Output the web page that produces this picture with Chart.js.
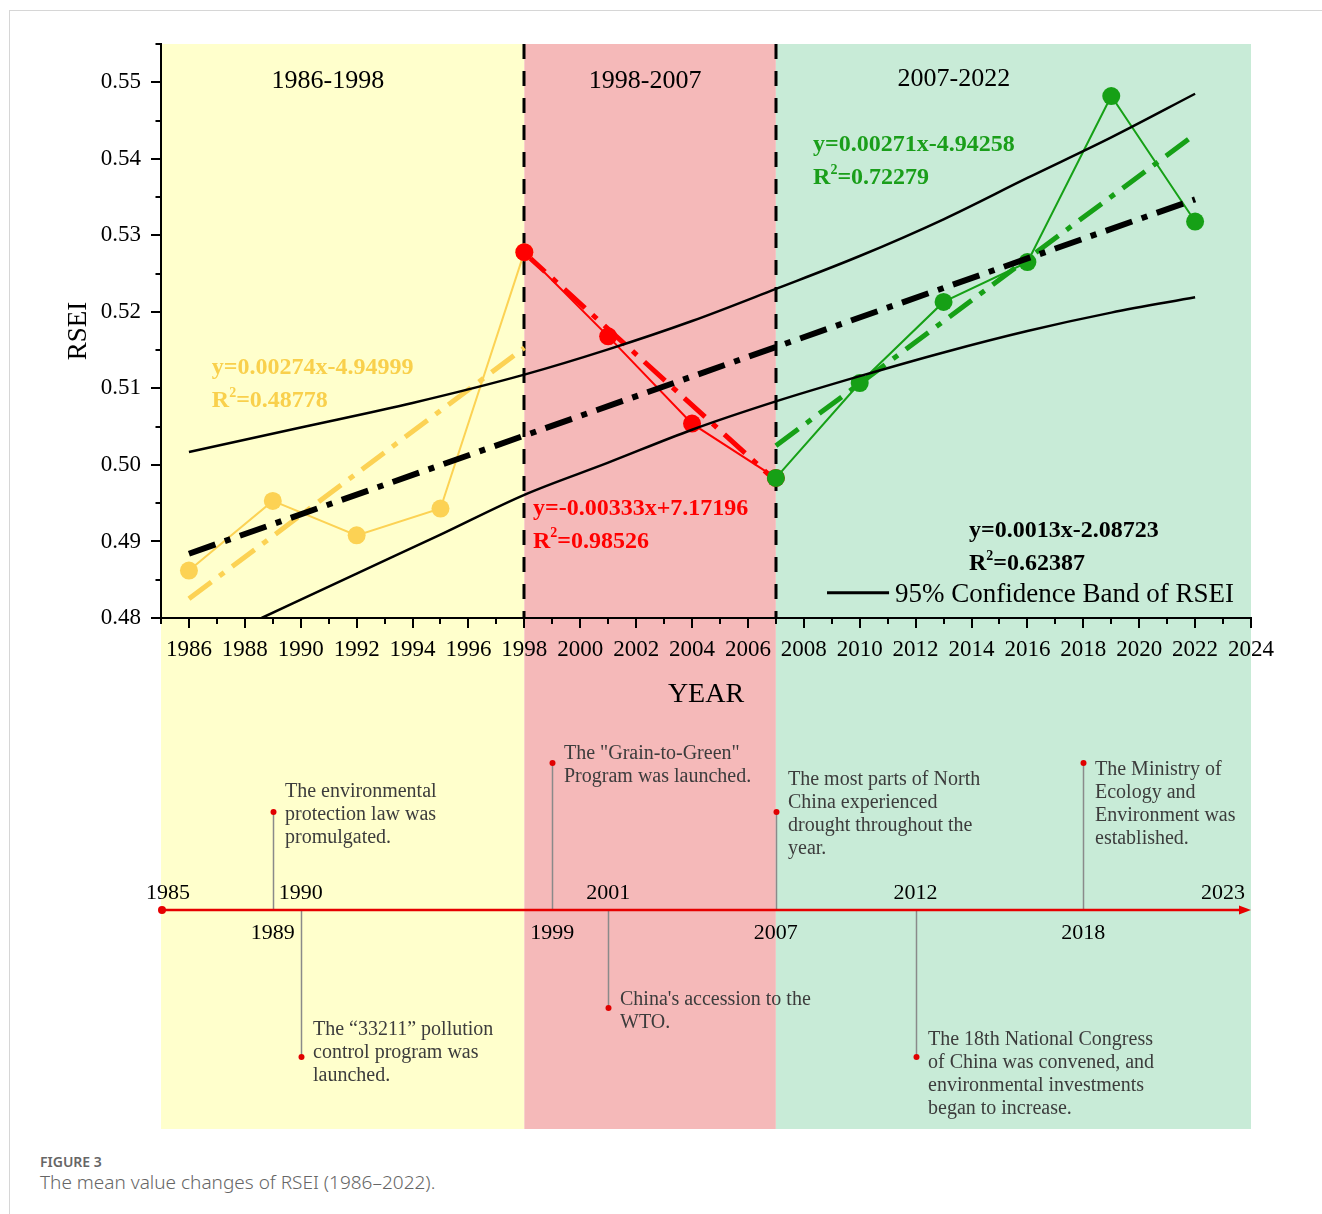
<!DOCTYPE html>
<html>
<head>
<meta charset="utf-8">
<title>RSEI mean value changes</title>
<script src="https://cdn.jsdelivr.net/npm/chart.js@4.4.0/dist/chart.umd.min.js"></script>
<style>
  html, body { margin: 0; padding: 0; background: #fff; }
  body { width: 1322px; height: 1214px; position: relative; overflow: hidden; }
  #frame { position: absolute; left: 9px; top: 10px; right: -2px; bottom: -2px;
           border-left: 1px solid #d6d6d6; border-top: 1px solid #d6d6d6; }
  #wrap { position: absolute; left: 0; top: 0; width: 1322px; height: 1140px; }
  .cap { position: absolute; left: 40px; font-family: "Noto Sans", sans-serif; color: #666; }
  #fig { top: 1152px; font-size: 14px; font-weight: 600; }
  #desc { top: 1169px; font-size: 19px; font-weight: 300; }
</style>
</head>
<body>
<div id="frame"></div>
<div id="wrap"><canvas id="RseiChart" width="1322" height="1140"></canvas></div>
<div class="cap" id="fig">FIGURE 3</div>
<div class="cap" id="desc">The mean value changes of RSEI (1986–2022).</div>
<script>
// periods shaded in the background
var periodNames = ['1986-1998', '1998-2007', '2007-2022'];
var periodBounds = [1985, 1998, 2007, 2024];

// mean RSEI per sampled year, one list per period
var yearsA = [1986, 1989, 1992, 1995, 1998];
var rseiA = [0.4862, 0.4953, 0.4908, 0.4943, 0.5278];
var yearsB = [1998, 2001, 2004, 2007];
var rseiB = [0.5278, 0.5168, 0.5054, 0.4983];
var yearsC = [2007, 2010, 2013, 2016, 2019, 2022];
var rseiC = [0.4983, 0.5107, 0.5213, 0.5265, 0.5482, 0.5318];

// fitted lines: start / end values
var fitYearsA = [1986, 1998], fitA = [0.4825, 0.5153];
var fitYearsB = [1998, 2007], fitB = [0.5277, 0.4979];
var fitYearsC = [2007, 2022], fitC = [0.5025, 0.5432];
var fitYearsAll = [1986, 2022], fitAll = [0.4884, 0.5347];

// 95% confidence band of the overall fit
var upperYears = [1986, 1990, 1994, 1998, 2001, 2004, 2007, 2010, 2013, 2016, 2019, 2022];
var upperBand = [0.5017, 0.5049, 0.5081, 0.5118, 0.5151, 0.5188, 0.5230, 0.5273, 0.5321, 0.5375, 0.5428, 0.5485];
var lowerYears = [1988.6, 1992, 1995, 1998, 2001, 2004, 2007, 2010, 2013, 2016, 2019, 2022];
var lowerBand = [0.4800, 0.4858, 0.4909, 0.4961, 0.5003, 0.5046, 0.5083, 0.5116, 0.5147, 0.5175, 0.5199, 0.5219];

// tick labels
var tickYears = [1986, 1988, 1990, 1992, 1994, 1996, 1998, 2000, 2002, 2004, 2006, 2008, 2010, 2012, 2014, 2016, 2018, 2020, 2022, 2024];
var rseiTicks = [0.48, 0.49, 0.50, 0.51, 0.52, 0.53, 0.54, 0.55];

// regression texts
var fitEquations = ['y=0.00274x-4.94999', 'y=-0.00333x+7.17196', 'y=0.00271x-4.94258', 'y=0.0013x-2.08723'];
var fitR2 = ['0.48778', '0.98526', '0.72279', '0.62387'];
var legendText = '95% Confidence Band of RSEI';

// timeline of policy events
var timelineStart = 1985, timelineEnd = 2023;
var yearsAbove = [1985, 1990, 2001, 2012, 2023];
var yearsBelow = [1989, 1999, 2007, 2018];
var eventYears = [1989, 1990, 1999, 2001, 2007, 2012, 2018];
var eventNotes = [
  ['The environmental', 'protection law was', 'promulgated.'],
  ['The \u201c33211\u201d pollution', 'control program was', 'launched.'],
  ['The "Grain-to-Green"', 'Program was launched.'],
  ["China's accession to the", 'WTO.'],
  ['The most parts of North', 'China experienced', 'drought throughout the', 'year.'],
  ['The 18th National Congress', 'of China was convened, and', 'environmental investments', 'began to increase.'],
  ['The Ministry of', 'Ecology and', 'Environment was', 'established.']
];

// ---- styling / layout ----
var serif = '"Liberation Serif", "Times New Roman", Times, serif';
var yellow = '#fcd254', red = '#ff0000', green = '#16a016';
var bandColors = ['#ffffcc', '#f5b9b9', '#c8ebd7'];
var bandBottom = 1129;
var lineY = 910;
var eventTip = [812, 1057, 763, 1008, 812, 1057, 763];
var eventTextY = [792, 1030, 754, 1000, 780, 1040, 770];
// anchors for texts, in data units [year, rsei]
var periodAnchors = [[1990.97, 0.5502], [2002.32, 0.5502], [2013.37, 0.5504]];
var eqAnchors = [[1986.82, 0.5127], [1998.31, 0.4943], [2008.33, 0.5418], [2013.91, 0.4914]];
var eqColors = ['#f9d04c', red, '#1a9e1a', '#000'];
var legendAnchor = [2008.83, 2011.05, 0.4833];

function pts(xs, ys) {
  return xs.map(function (x, i) { return { x: x, y: ys[i] }; });
}

function fitSet(xs, ys, color, width) {
  return { data: pts(xs, ys), showLine: true, borderColor: color, borderWidth: width,
           borderDash: [28, 10, 6, 10], pointRadius: 0, borderCapStyle: 'butt' };
}

function seriesSet(xs, ys, color) {
  return { data: pts(xs, ys), showLine: true, borderColor: color, borderWidth: 2,
           backgroundColor: color, pointBackgroundColor: color, pointBorderWidth: 0, pointRadius: 9 };
}

function bandSet(xs, ys) {
  return { data: pts(xs, ys), showLine: true, borderColor: '#000', borderWidth: 2.5,
           pointRadius: 0, cubicInterpolationMode: 'monotone' };
}

var backgroundPlugin = {
  id: 'periodBands',
  beforeDraw: function (chart) {
    var c = chart.ctx, xs = chart.scales.x, top = chart.chartArea.top;
    c.save();
    for (var i = 0; i < periodNames.length; i++) {
      var x0 = xs.getPixelForValue(periodBounds[i]);
      var x1 = xs.getPixelForValue(periodBounds[i + 1]);
      c.fillStyle = bandColors[i];
      c.fillRect(x0, top, x1 - x0, bandBottom - top);
    }
    c.restore();
  },
  beforeDatasetsDraw: function (chart) {
    var c = chart.ctx, xs = chart.scales.x, a = chart.chartArea;
    c.save();
    c.strokeStyle = '#000';
    c.lineWidth = 3;
    c.setLineDash([15, 12]);
    for (var i = 1; i < periodBounds.length - 1; i++) {
      var x = Math.round(xs.getPixelForValue(periodBounds[i]));
      c.beginPath();
      c.moveTo(x, a.top);
      c.lineTo(x, a.bottom);
      c.stroke();
    }
    c.restore();
  }
};

function drawR2(c, x, y, value, size) {
  c.fillText('R', x, y);
  var w = c.measureText('R').width;
  var font = c.font;
  c.font = 'bold ' + Math.round(size * 0.6) + 'px ' + serif;
  c.fillText('2', x + w, y - size * 0.32);
  var w2 = c.measureText('2').width;
  c.font = font;
  c.fillText('=' + value, x + w + w2, y);
}

var textPlugin = {
  id: 'fitTexts',
  afterDatasetsDraw: function (chart) {
    var c = chart.ctx, xs = chart.scales.x, ys = chart.scales.y;
    c.save();
    c.textBaseline = 'middle';
    c.fillStyle = '#000';
    c.textAlign = 'center';
    c.font = '26px ' + serif;
    periodNames.forEach(function (t, i) {
      c.fillText(t, xs.getPixelForValue(periodAnchors[i][0]), ys.getPixelForValue(periodAnchors[i][1]));
    });
    c.textAlign = 'left';
    c.font = 'bold 24px ' + serif;
    fitEquations.forEach(function (t, i) {
      var x = xs.getPixelForValue(eqAnchors[i][0]);
      var y = ys.getPixelForValue(eqAnchors[i][1]);
      c.fillStyle = eqColors[i];
      c.fillText(t, x, y);
      drawR2(c, x, y + 33, fitR2[i], 24);
    });
    // legend for the confidence band
    var lx0 = xs.getPixelForValue(legendAnchor[0]);
    var lx1 = xs.getPixelForValue(legendAnchor[1]);
    var ly = ys.getPixelForValue(legendAnchor[2]);
    c.strokeStyle = '#000';
    c.lineWidth = 3;
    c.beginPath();
    c.moveTo(lx0, ly);
    c.lineTo(lx1, ly);
    c.stroke();
    c.fillStyle = '#000';
    c.font = '27px ' + serif;
    c.fillText(legendText, lx1 + 6, ly + 2);
    c.restore();
  }
};

var axisTicksPlugin = {
  id: 'axisTicks',
  afterDraw: function (chart) {
    var c = chart.ctx, xs = chart.scales.x, ys = chart.scales.y, a = chart.chartArea;
    c.save();
    c.strokeStyle = '#000';
    c.lineWidth = 2;
    c.beginPath();
    for (var yr = xs.min; yr <= xs.max; yr++) {
      var px = Math.round(xs.getPixelForValue(yr));
      c.moveTo(px, a.bottom);
      c.lineTo(px, a.bottom + (yr % 2 === 0 ? 10 : 6));
    }
    for (var i = 0; 0.48 + i * 0.005 <= ys.max + 1e-9; i++) {
      var py = Math.round(ys.getPixelForValue(0.48 + i * 0.005));
      c.moveTo(a.left, py);
      c.lineTo(a.left - (i % 2 === 0 ? 10 : 5.5), py);
    }
    c.stroke();
    c.restore();
  }
};

var timelinePlugin = {
  id: 'timeline',
  afterDraw: function (chart) {
    var c = chart.ctx, xs = chart.scales.x;
    var x0 = xs.getPixelForValue(timelineStart);
    var x1 = xs.getPixelForValue(xs.max);
    c.save();
    // stems and event dots
    eventYears.forEach(function (yr, i) {
      var x = Math.round(xs.getPixelForValue(yr)) + 0.5;
      c.strokeStyle = '#8a8a8a';
      c.lineWidth = 1.5;
      c.beginPath();
      c.moveTo(x, lineY);
      c.lineTo(x, eventTip[i]);
      c.stroke();
      c.fillStyle = '#e00000';
      c.beginPath();
      c.arc(x, eventTip[i], 3, 0, Math.PI * 2);
      c.fill();
      c.fillStyle = '#3c3c3c';
      c.font = '20px ' + serif;
      c.textAlign = 'left';
      c.textBaseline = 'middle';
      eventNotes[i].forEach(function (line, j) {
        c.fillText(line, x + 11.5, eventTextY[i] + j * 23);
      });
    });
    // the time axis with arrow
    c.strokeStyle = '#e60000';
    c.fillStyle = '#e60000';
    c.lineWidth = 2.5;
    c.beginPath();
    c.moveTo(x0, lineY);
    c.lineTo(x1 - 8, lineY);
    c.stroke();
    c.beginPath();
    c.moveTo(x1, lineY);
    c.lineTo(x1 - 12, lineY - 4.5);
    c.lineTo(x1 - 12, lineY + 4.5);
    c.closePath();
    c.fill();
    c.beginPath();
    c.arc(x0 + 1, lineY, 4, 0, Math.PI * 2);
    c.fill();
    // year labels
    c.fillStyle = '#000';
    c.font = '22px ' + serif;
    c.textAlign = 'center';
    c.textBaseline = 'middle';
    yearsAbove.forEach(function (yr) {
      var x = xs.getPixelForValue(yr);
      var w = c.measureText(String(yr)).width;
      c.fillText(String(yr), Math.max(x, 146 + w / 2), lineY - 17);
    });
    yearsBelow.forEach(function (yr) {
      c.fillText(String(yr), xs.getPixelForValue(yr), lineY + 23);
    });
    c.restore();
  }
};

var ctx = document.getElementById('RseiChart').getContext('2d');
var rseiChart = new Chart(ctx, {
  type: 'scatter',
  data: {
    datasets: [
      fitSet(fitYearsAll, fitAll, '#000', 6),
      bandSet(upperYears, upperBand),
      bandSet(lowerYears, lowerBand),
      seriesSet(yearsC, rseiC, green),
      seriesSet(yearsB, rseiB, red),
      seriesSet(yearsA, rseiA, yellow),
      fitSet(fitYearsC, fitC, green, 5),
      fitSet(fitYearsB, fitB, red, 5),
      fitSet(fitYearsA, fitA, yellow, 5)
    ]
  },
  options: {
    responsive: false,
    animation: false,
    devicePixelRatio: 1,
    layout: { padding: { left: 0, top: 44, right: 71, bottom: 429 } },
    plugins: { legend: { display: false }, tooltip: { enabled: false } },
    scales: {
      x: {
        type: 'linear', min: 1985, max: 2024,
        grid: { display: false, drawTicks: false },
        border: { display: true, color: '#000', width: 2 },
        afterBuildTicks: function (s) { s.ticks = tickYears.map(function (v) { return { value: v }; }); },
        afterFit: function (s) { s.height = 93; },
        ticks: { font: { family: serif, size: 23 }, color: '#000', padding: 18, maxRotation: 0, autoSkip: false,
                 callback: function (v) { return String(v); } },
        title: { display: true, text: 'YEAR', font: { family: serif, size: 28 }, color: '#000', padding: { top: 0, bottom: 0 } }
      },
      y: {
        type: 'linear', min: 0.48, max: 0.555,
        grid: { display: false, drawTicks: false },
        border: { display: true, color: '#000', width: 2 },
        afterBuildTicks: function (s) { s.ticks = rseiTicks.map(function (v) { return { value: v }; }); },
        afterFit: function (s) { s.width = 161; },
        ticks: { font: { family: serif, size: 23 }, color: '#000', padding: 20,
                 callback: function (v) { return v.toFixed(2); } },
        title: { display: true, text: 'RSEI', font: { family: serif, size: 27 }, color: '#000', padding: { top: 63, bottom: 0 } }
      }
    }
  },
  plugins: [backgroundPlugin, textPlugin, axisTicksPlugin, timelinePlugin]
});
</script>
</body>
</html>
